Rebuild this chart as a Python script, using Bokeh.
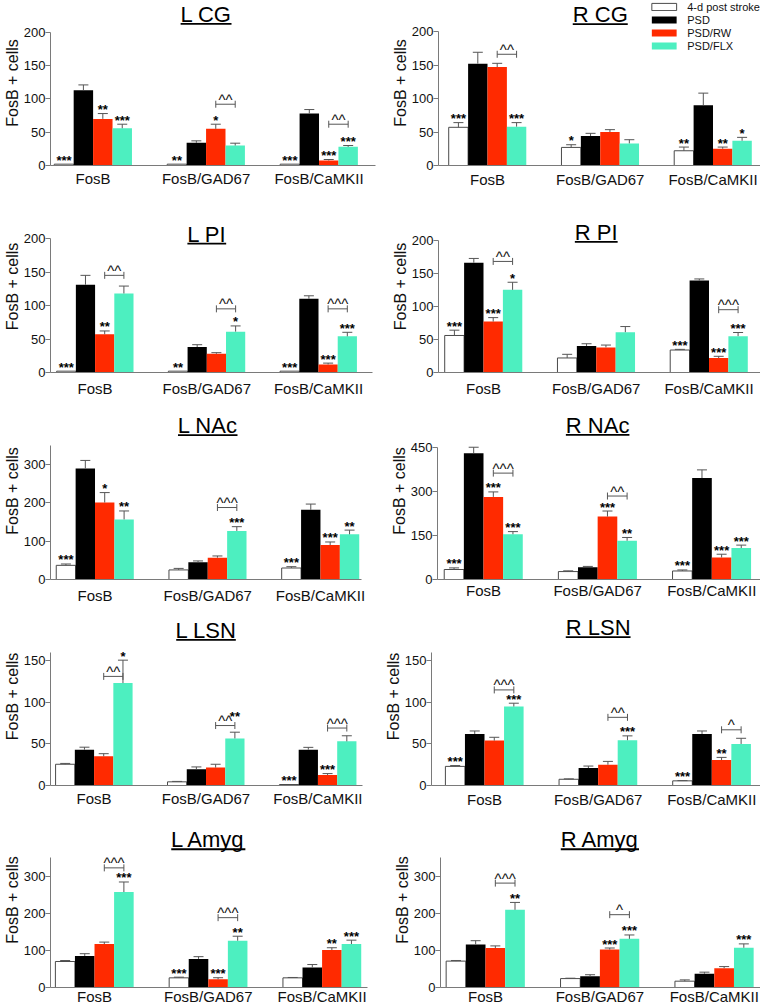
import math
from bokeh.plotting import figure
from bokeh.layouts import column, row
from bokeh.models import Range1d, FixedTicker, Legend, LegendItem
from bokeh.core.properties import value
from bokeh.embed import file_html
from bokeh.resources import INLINE

# ---------------- data ----------------
GROUPS = ["FosB", "FosB/GAD67", "FosB/CaMKII"]
SERIES = ["4-d post stroke", "PSD", "PSD/RW", "PSD/FLX"]
YLABEL = "FosB + cells"

# each list: [group][series]
LCG_mean = [[2, 113, 70, 56], [2, 34, 55, 30], [2, 78, 7.5, 28]]
LCG_sem = [[0, 8, 8, 6], [0, 3, 7, 3.5], [0, 6, 1.5, 2]]
LCG_sig = [["***", "", "**", "***"], ["**", "", "*", ""], ["***", "", "***", "***"]]
LCG_hat = ["", "^^", "^^"]
LCG_hat_y = [0, 92, 62]

RCG_mean = [[57, 152, 147, 58], [27, 44, 50, 33], [22, 90, 25, 37]]
RCG_sem = [[7, 17, 5.5, 6], [4, 4, 3.5, 5.5], [5.5, 18, 2.5, 5]]
RCG_sig = [["***", "", "", "***"], ["*", "", "", ""], ["**", "", "**", "*"]]
RCG_hat = ["^^", "", ""]
RCG_hat_y = [166, 0, 0]

LPI_mean = [[2, 131, 57, 118], [2, 38, 28, 61], [2, 110, 12, 54]]
LPI_sem = [[0, 14, 5, 11], [0, 3.5, 1.6, 8.5], [0, 4.5, 2, 6]]
LPI_sig = [["***", "", "**", ""], ["**", "", "", "*"], ["***", "", "***", "***"]]
LPI_hat = ["^^", "^^", "^^^"]
LPI_hat_y = [145, 95, 95]

RPI_mean = [[56, 166, 77, 125], [22, 40, 38, 61], [34, 139, 22, 55]]
RPI_sem = [[8, 6.5, 6, 11.5], [5.5, 3.5, 3.5, 8.5], [1, 2.5, 2.5, 5.5]]
RPI_sig = [["***", "", "***", "*"], ["", "", "", ""], ["***", "", "***", "***"]]
RPI_hat = ["^^", "", "^^^"]
RPI_hat_y = [168, 0, 95]

LNAC_mean = [[37, 290, 201, 157], [25, 45, 57, 127], [30, 182, 90, 118]]
LNAC_sem = [[3.5, 21, 26, 22], [4, 3.5, 4.5, 11], [3.5, 15, 8, 11]]
LNAC_sig = [["***", "", "*", "**"], ["", "", "", "***"], ["***", "", "***", "**"]]
LNAC_hat = ["", "^^^", ""]
LNAC_hat_y = [0, 188, 0]

RNAC_mean = [[34, 430, 281, 154], [27, 42, 214, 132], [29, 345, 75, 107]]
RNAC_sem = [[5.5, 20, 17, 9], [2.5, 2.5, 19, 11], [3.5, 28, 11, 10]]
RNAC_sig = [["***", "", "***", "***"], ["", "", "***", "**"], ["***", "", "***", "***"]]
RNAC_hat = ["^^^", "^^", ""]
RNAC_hat_y = [362, 284, 0]

LLSN_mean = [[25.5, 43, 35, 123], [4.4, 19.5, 21.5, 56.5], [1.2, 43, 12.7, 53]]
LLSN_sem = [[1, 3, 3.2, 27.5], [0.5, 2.8, 4, 7.5], [0, 2.8, 1.6, 6.7]]
LLSN_sig = [["", "", "", "*"], ["", "", "", "**"], ["***", "", "***", ""]]
LLSN_hat = ["^^", "^^", "^^^"]
LLSN_hat_y = [131, 72, 69]

RLSN_mean = [[23, 62, 54, 95], [7.5, 21, 25, 54.5], [5.6, 62, 30.6, 50]]
RLSN_sem = [[1, 3.6, 4, 4], [0.5, 2.4, 4, 5.2], [0.3, 3.6, 3.2, 6.8]]
RLSN_sig = [["***", "", "", "***"], ["", "", "", "***"], ["***", "", "**", ""]]
RLSN_hat = ["^^^", "^^", "^"]
RLSN_hat_y = [115, 82, 67]

LAMYG_mean = [[70, 85, 117, 257], [26, 77, 22, 126], [26, 54, 101, 117]]
LAMYG_sem = [[2.6, 6, 5.2, 27], [1.8, 6, 4.3, 12], [1, 7.8, 6, 10.4]]
LAMYG_sig = [["", "", "", "***"], ["***", "", "***", "**"], ["", "", "**", "***"]]
LAMYG_hat = ["^^^", "^^^", ""]
LAMYG_hat_y = [322, 188, 0]

RAMYG_mean = [[71, 116, 106, 209], [24, 30, 102, 131], [17, 37, 52, 107]]
RAMYG_sem = [[1.7, 10, 6, 20], [1, 4.4, 4.3, 10.4], [3.5, 4.3, 4.3, 10.4]]
RAMYG_sig = [["", "", "", "**"], ["", "", "***", "***"], ["", "", "", "***"]]
RAMYG_hat = ["^^^", "^", ""]
RAMYG_hat_y = [281, 196, 166]

PANELS = [
    ("L CG", LCG_mean, LCG_sem, LCG_sig, LCG_hat, LCG_hat_y),
    ("R CG", RCG_mean, RCG_sem, RCG_sig, RCG_hat, RCG_hat_y),
    ("L PI", LPI_mean, LPI_sem, LPI_sig, LPI_hat, LPI_hat_y),
    ("R PI", RPI_mean, RPI_sem, RPI_sig, RPI_hat, RPI_hat_y),
    ("L NAc", LNAC_mean, LNAC_sem, LNAC_sig, LNAC_hat, LNAC_hat_y),
    ("R NAc", RNAC_mean, RNAC_sem, RNAC_sig, RNAC_hat, RNAC_hat_y),
    ("L LSN", LLSN_mean, LLSN_sem, LLSN_sig, LLSN_hat, LLSN_hat_y),
    ("R LSN", RLSN_mean, RLSN_sem, RLSN_sig, RLSN_hat, RLSN_hat_y),
    ("L Amyg", LAMYG_mean, LAMYG_sem, LAMYG_sig, LAMYG_hat, LAMYG_hat_y),
    ("R Amyg", RAMYG_mean, RAMYG_sem, RAMYG_sig, RAMYG_hat, RAMYG_hat_y),
]

# ---------------- layout / style ----------------
FONT = "Liberation Sans"
FILL = ["#FFFFFF", "#000000", "#FF2A00", "#4DEFC0"]
EDGE = ["#4A4A4A", None, None, None]
AXIS_COLOR = "#7A7A7A"
ERR_COLOR = "#555555"
BW = 0.172

# geometry of each panel in page pixels
GEOM = {
    "L CG":   dict(fl=47, fr=375, z=166, t=32, tv=200, g0=90, g2=318, tb=21, gap=7.3, ticks=[0, 50, 100, 150, 200]),
    "R CG":   dict(fl=438, fr=760, z=165, t=31, tv=200, g0=487, g2=712.5, tb=21, gap=8, ticks=[0, 50, 100, 150, 200]),
    "L PI":   dict(fl=47, fr=372, z=372, t=238, tv=200, g0=92, g2=317.5, tb=240.5, gap=9.7, ticks=[0, 50, 100, 150, 200]),
    "R PI":   dict(fl=438, fr=760, z=373, t=240, tv=200, g0=483, g2=708.5, tb=239, gap=9.7, ticks=[0, 50, 100, 150, 200]),
    "L NAc":  dict(fl=48, fr=361, z=579, t=445, tv=350, g0=92.8, g2=319.7, tb=432, gap=10, ticks=[0, 100, 200, 300]),
    "R NAc":  dict(fl=437, fr=760, z=580, t=447, tv=450, g0=483, g2=711.3, tb=432, gap=5, ticks=[0, 150, 300, 450]),
    "L LSN":  dict(fl=42, fr=362, z=786, t=652, tv=160, g0=86.7, g2=316.3, tb=637, gap=6.7, ticks=[0, 50, 100, 150]),
    "R LSN":  dict(fl=431, fr=760, z=785, t=652, tv=160, g0=484, g2=711.3, tb=634, gap=8, ticks=[0, 50, 100, 150]),
    "L Amyg": dict(fl=48, fr=367, z=991, t=858, tv=350, g0=92.3, g2=321.3, tb=847, gap=3, ticks=[0, 100, 200, 300]),
    "R Amyg": dict(fl=440, fr=760, z=991, t=858, tv=350, g0=485, g2=713.8, tb=847, gap=3, ticks=[0, 100, 200, 300]),
}

COL_X = [0, 380]
COL_W = [380, 380]
ROW_Y = [0, 200, 402, 607, 812, 1007]

CW = {'L': .556, ' ': .278, 'C': .722, 'G': .778, 'R': .722, 'P': .667, 'I': .278,
      'N': .722, 'A': .667, 'c': .5, 'S': .667, 'm': .833, 'y': .5, 'g': .556}
TITLE_PX = 22
STAR_PX = 13
HAT_PX = 15
BASE_SHIFT = 0.33   # empirical correction of the alphabetic baseline (in em)
STAR_CLEAR_PX = 10  # vertical room a star label needs below a bracket


def make_panel(idx, name, mean, sem, sig, hat, hat_y, legend=False):
    r, c = divmod(idx, 2)
    g = GEOM[name]
    fig_left, fig_top = COL_X[c], ROW_Y[r]
    W, H = COL_W[c], ROW_Y[r + 1] - ROW_Y[r]
    fl = g["fl"] - fig_left
    fr = g["fr"] - fig_left
    z = g["z"] - fig_top
    t = g["t"] - fig_top
    ppu = (z - t) / g["tv"]
    y_end = z / ppu
    g0, g2 = g["g0"], g["g2"]
    unit = (g2 - g0) / 2
    x0 = (g["fl"] - g0) / unit
    x1 = (g["fr"] - g0) / unit

    p = figure(width=W, height=H, x_range=Range1d(x0, x1), y_range=Range1d(0, y_end),
               title=None, output_backend="svg", toolbar_location=None,
               min_border_left=int(round(fl)), min_border_right=max(0, int(round(W - fr))),
               min_border_top=0, min_border_bottom=int(round(H - z)))
    p.outline_line_color = None
    p.xgrid.grid_line_color = None
    p.ygrid.grid_line_color = None

    # y axis
    ya = p.yaxis[0]
    ya.ticker = FixedTicker(ticks=g["ticks"])
    ya.bounds = (0, g["tv"])
    ya.axis_label = YLABEL
    ya.axis_label_text_font = FONT
    ya.axis_label_text_font_size = "16px"
    ya.axis_label_text_font_style = "normal"
    ya.axis_label_text_color = "#111111"
    ya.axis_label_standoff = 0
    ya.major_label_text_font = FONT
    ya.major_label_text_font_size = "13px"
    ya.major_label_text_color = "#111111"
    ya.major_label_standoff = 0
    ya.major_tick_out = 5
    ya.major_tick_in = 0
    ya.minor_tick_out = 0
    ya.minor_tick_in = 0
    ya.axis_line_color = AXIS_COLOR
    ya.major_tick_line_color = AXIS_COLOR

    # x axis
    xa = p.xaxis[0]
    xa.ticker = FixedTicker(ticks=[0, 1, 2])
    xa.major_label_overrides = {i: lab for i, lab in enumerate(GROUPS)}
    xa.major_label_text_font = FONT
    xa.major_label_text_font_size = "15px"
    xa.major_label_text_color = "#111111"
    xa.major_label_standoff = max(0, int(round(g["gap"] - 3)))
    xa.major_tick_out = 0
    xa.major_tick_in = 0
    xa.minor_tick_out = 0
    xa.minor_tick_in = 0
    xa.axis_line_color = AXIS_COLOR

    bar_renderers = []
    ex, ey0, ey1 = [], [], []
    sx, sy, st = [], [], []
    for s in range(4):
        xs = [gi + (s - 1.5) * BW for gi in range(3)]
        tops = [mean[gi][s] for gi in range(3)]
        rr = p.vbar(x=xs, top=tops, bottom=0, width=BW, fill_color=FILL[s],
                    line_color=EDGE[s], line_width=1)
        bar_renderers.append(rr)
        for gi in range(3):
            e = sem[gi][s]
            if e > 0:
                ex.append(xs[gi]); ey0.append(tops[gi]); ey1.append(tops[gi] + e)
            if sig[gi][s]:
                anchor = tops[gi] + e
                # a star that would run into the comparison bracket goes above it
                if hat[gi] and s in (2, 3):
                    hyv = hat_y[gi]
                    if anchor < hyv < anchor + STAR_CLEAR_PX / ppu:
                        anchor = hyv + 5 / ppu
                sx.append(xs[gi]); sy.append(anchor); st.append(sig[gi][s])

    p.segment(x0=ex, y0=ey0, x1=ex, y1=ey1, line_color=ERR_COLOR, line_width=1)
    p.scatter(x=ex, y=ey1, marker="dash", size=10, line_color=ERR_COLOR, line_width=1)

    p.text(x=sx, y=sy, text=st, text_font=value(FONT), text_font_size=value("%dpx" % STAR_PX),
           text_font_style="bold", text_align="center", text_baseline="alphabetic",
           y_offset=-round(BASE_SHIFT * STAR_PX), text_color="#000000")

    # comparison brackets
    hx0, hx1, hy, hxm, ht = [], [], [], [], []
    for gi in range(3):
        if hat[gi]:
            a = gi + 0.5 * BW
            b = gi + 1.5 * BW
            hx0.append(a); hx1.append(b); hy.append(hat_y[gi])
            hxm.append((a + b) / 2); ht.append(hat[gi])
    if ht:
        p.segment(x0=hx0, y0=hy, x1=hx1, y1=hy, line_color=ERR_COLOR, line_width=1)
        p.scatter(x=hx0 + hx1, y=hy + hy, marker="dash", size=7, angle=math.pi / 2,
                  line_color=ERR_COLOR, line_width=1)
        p.text(x=hxm, y=hy, text=ht, text_font=value(FONT), text_font_size=value("%dpx" % HAT_PX),
               text_align="center", text_baseline="alphabetic",
               y_offset=-round(BASE_SHIFT * HAT_PX), text_color="#111111")

    # underlined panel title
    tb_local = g["tb"] - fig_top
    yt = (z - tb_local) / ppu
    yu = (z - tb_local - 2.6) / ppu
    tw = sum(CW.get(ch, 0.6) for ch in name) * TITLE_PX
    p.text(x=[1], y=[yt], text=[name], text_font=value(FONT), text_font_size=value("%dpx" % TITLE_PX),
           text_align="center", text_baseline="alphabetic", y_offset=-round(BASE_SHIFT * TITLE_PX),
           text_color="#000000")
    p.segment(x0=[1 - tw / 2 / unit], y0=[yu], x1=[1 + tw / 2 / unit], y1=[yu],
              line_color="#000000", line_width=1.8)

    if legend:
        items = [LegendItem(label=SERIES[s], renderers=[bar_renderers[s]]) for s in range(4)]
        leg = Legend(items=items, location="top_right", margin=0, padding=5, spacing=0,
                     glyph_width=31, glyph_height=9, label_height=13, label_standoff=8,
                     label_text_font=FONT, label_text_font_size="11px",
                     label_text_color="#111111",
                     border_line_color=None, background_fill_alpha=0)
        p.add_layout(leg)
    return p


figs = [make_panel(i, *pan, legend=(pan[0] == "R CG")) for i, pan in enumerate(PANELS)]
layout = column(*[row(figs[2 * k], figs[2 * k + 1]) for k in range(5)])

open("out.html", "w").write(file_html(layout, INLINE))
